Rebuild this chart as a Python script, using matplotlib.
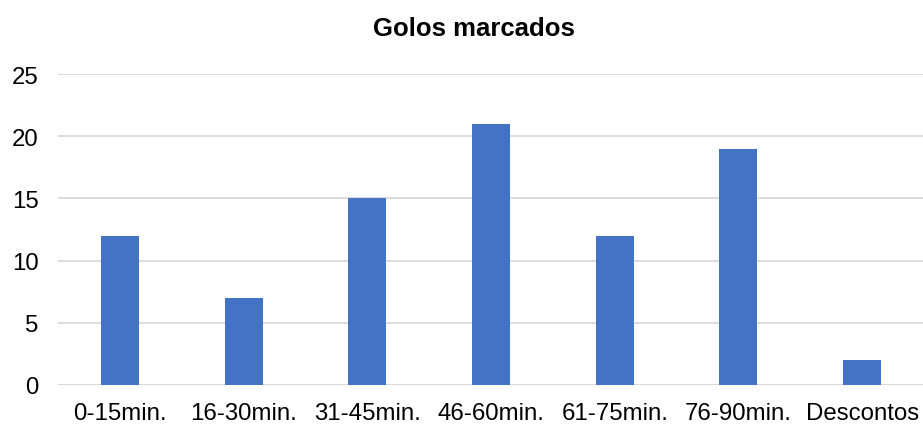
import matplotlib
matplotlib.use("Agg")
import matplotlib.pyplot as plt

# Goals scored per match period
periods = ["0-15min.", "16-30min.", "31-45min.", "46-60min.", "61-75min.", "76-90min.", "Descontos"]
goals = [12, 7, 15, 21, 12, 19, 2]
yticks = [0, 5, 10, 15, 20, 25]

plt.rcParams['font.family'] = ['Liberation Sans', 'DejaVu Sans']

fig = plt.figure(figsize=(9.23, 4.27), dpi=100)
ax = fig.add_axes([58 / 923, 41 / 427, 866 / 923, 311 / 427])

x = range(len(periods))
ax.bar(x, goals, width=0.307, color='#4472C4', zorder=3)

ax.set_xlim(-0.5, len(periods) - 0.5)
ax.set_ylim(0, 25)
ax.set_yticks(yticks)
ax.set_xticks(list(x))
ax.set_xticklabels(periods)
ax.grid(axis='y', color='#D9D9D9', linewidth=1.3, zorder=0)
ax.tick_params(axis='both', length=0, labelsize=17.3, colors='#000000')
ax.tick_params(axis='x', pad=12)
ax.tick_params(axis='y', pad=14)
for side in ['top', 'right', 'left', 'bottom']:
    ax.spines[side].set_visible(False)
ax.axhline(0, color='#D9D9D9', linewidth=1.3, zorder=2)

fig.text(474 / 923, 1 - 29 / 427, "Golos marcados", ha='center', va='center',
         fontsize=18.5, fontweight='bold')

fig.savefig("out.png", dpi=100)
